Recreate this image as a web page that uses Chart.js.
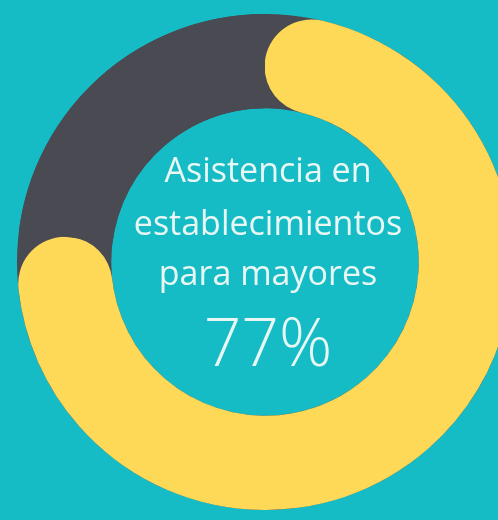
<!DOCTYPE html>
<html>
<head>
<meta charset="utf-8">
<script src="https://cdn.jsdelivr.net/npm/chart.js@4.4.1/dist/chart.umd.min.js"></script>
<style>
  html, body { margin: 0; padding: 0; width: 498px; height: 520px; overflow: hidden; background: #15bcc6; }
  #wrap { position: absolute; left: 17px; top: 14px; width: 496px; height: 496px; }
</style>
</head>
<body>
<div id="wrap"><canvas id="ring"></canvas></div>
<script>
var labels = ["Asistencia en establecimientos para mayores", "Resto"];
var values = [77, 23];
var colors = ["#fdd957", "#4a4a52"];
var titleLines = ["Asistencia en", "establecimientos", "para mayores"];

// grey track under the whole ring, so the round caps sit on it
var track = {
  id: "track",
  beforeDatasetsDraw: function (chart) {
    var arc = chart.getDatasetMeta(0).data[0];
    if (!arc) return;
    var ctx = chart.ctx;
    ctx.save();
    ctx.beginPath();
    ctx.arc(arc.x, arc.y, arc.outerRadius, 0, Math.PI * 2);
    ctx.arc(arc.x, arc.y, arc.innerRadius, 0, Math.PI * 2, true);
    ctx.fillStyle = colors[1];
    ctx.fill();
    ctx.restore();
  }
};

// text in the hole, baselines measured from the ring centre
var centerText = {
  id: "centerText",
  afterDraw: function (chart) {
    var arc = chart.getDatasetMeta(0).data[0];
    var ctx = chart.ctx;
    var cx = arc.x + 3;
    ctx.save();
    ctx.fillStyle = "#e8f7f4";
    ctx.textAlign = "center";
    ctx.textBaseline = "alphabetic";
    ctx.font = "400 34px 'Open Sans'";
    var offs = [-80, -27, 23];
    titleLines.forEach(function (t, i) {
      ctx.fillText(t, cx, arc.y + offs[i]);
    });
    ctx.font = "300 66px 'Open Sans'";
    ctx.fillText(values[0] + "%", cx, arc.y + 104);
    ctx.restore();
  }
};

new Chart(document.getElementById("ring"), {
  type: "doughnut",
  data: {
    labels: labels,
    datasets: [
      {
        data: values,
        backgroundColor: colors,
        borderWidth: 0,
        borderRadius: [200, 0]
      }
    ]
  },
  options: {
    responsive: true,
    maintainAspectRatio: false,
    animation: false,
    cutout: "62%",
    layout: { padding: 0 },
    plugins: {
      legend: { display: false },
      tooltip: { enabled: false }
    }
  },
  plugins: [track, centerText]
});
</script>
</body>
</html>
